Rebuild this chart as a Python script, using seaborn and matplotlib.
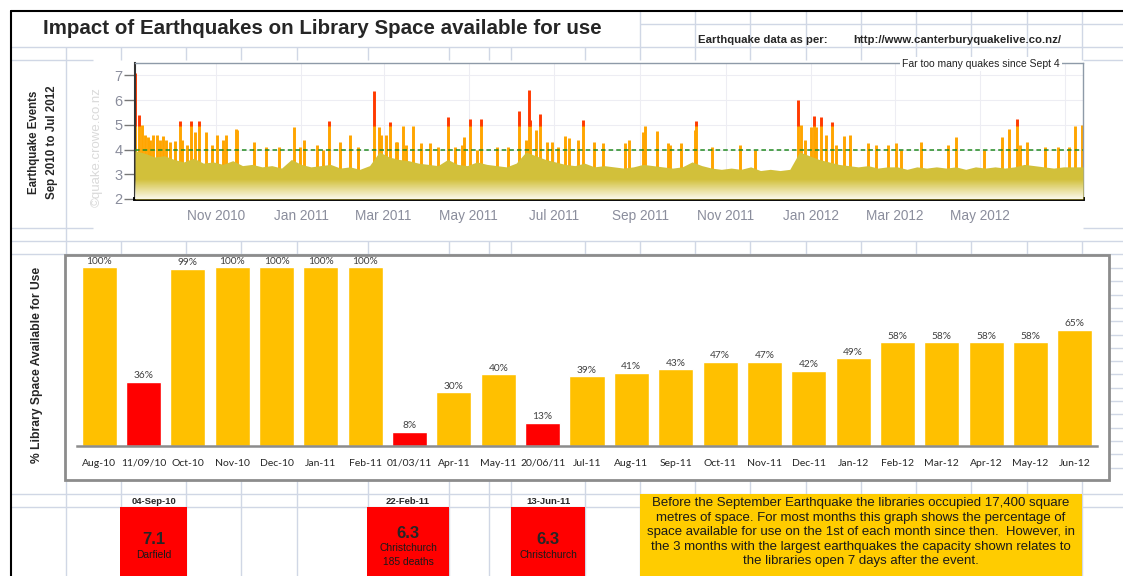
import numpy as np
import pandas as pd
import seaborn as sns
import matplotlib.pyplot as plt
import matplotlib.dates as mdates
from matplotlib.patches import Rectangle

# % of library space available for use (1st of month, or 7 days after a big quake)
months = ['Aug-10', '11/09/10', 'Oct-10', 'Nov-10', 'Dec-10', 'Jan-11', 'Feb-11',
          '01/03/11', 'Apr-11', 'May-11', '20/06/11', 'Jul-11', 'Aug-11', 'Sep-11',
          'Oct-11', 'Nov-11', 'Dec-11', 'Jan-12', 'Feb-12', 'Mar-12', 'Apr-12',
          'May-12', 'Jun-12']
pct_available = [100, 36, 99, 100, 100, 100, 100, 8, 30, 40, 13, 39, 41, 43,
                 47, 47, 42, 49, 58, 58, 58, 58, 65]
bar_colors = ['#FFC000', '#FF0000', '#FFC000', '#FFC000', '#FFC000', '#FFC000',
              '#FFC000', '#FF0000', '#FFC000', '#FFC000', '#FF0000', '#FFC000',
              '#FFC000', '#FFC000', '#FFC000', '#FFC000', '#FFC000', '#FFC000',
              '#FFC000', '#FFC000', '#FFC000', '#FFC000', '#FFC000']

# larger quakes: days after 4 Sep 2010 and magnitude
quake_day = [0, 3, 5, 7, 9, 11, 13, 16, 18, 20, 22, 25, 29, 32, 34, 37, 40, 43, 46,
             51, 55, 59, 63, 65, 72, 73, 85, 94, 103, 114, 118, 121, 130, 135, 139,
             147, 154, 160, 171, 175, 176, 180, 183, 187, 188, 192, 194, 199, 205,
             211, 217, 224, 229, 234, 236, 240, 245, 248, 259, 267, 275, 280, 282,
             283, 287, 290, 295, 299, 303, 308, 311, 317, 321, 329, 335, 351, 354,
             364, 365, 374, 382, 383, 391, 401, 402, 413, 433, 444, 475, 477, 480,
             484, 486, 488, 491, 495, 499, 502, 508, 512, 525, 531, 539, 545, 549,
             563, 582, 588, 608, 621, 626, 632, 634, 639, 652, 661, 669, 673, 678]
quake_mag = [7.1, 5.4, 5.0, 4.6, 4.5, 4.4, 4.6, 4.6, 4.4, 4.55, 4.4, 4.3, 4.35, 5.15,
             4.4, 4.2, 5.15, 4.7, 5.15, 4.7, 4.2, 4.6, 4.4, 4.6, 4.85, 4.8, 4.3, 4.1,
             4.1, 4.9, 4.1, 4.4, 4.2, 4.0, 5.15, 4.3, 4.6, 4.1, 6.35, 4.9, 4.6, 4.6,
             5.1, 4.3, 4.3, 4.95, 4.2, 4.95, 4.25, 4.25, 4.1, 5.3, 4.1, 4.2, 4.5,
             5.25, 4.0, 5.25, 4.1, 4.1, 5.55, 4.4, 6.4, 5.2, 4.8, 5.45, 4.3, 4.3, 4.1,
             4.55, 4.45, 4.4, 5.2, 4.3, 4.25, 4.25, 4.4, 4.7, 4.95, 4.75, 4.25, 4.2,
             4.25, 4.8, 5.15, 4.1, 4.2, 4.0, 6.0, 5.0, 4.4, 4.9, 5.35, 4.9, 5.3, 4.6,
             5.1, 4.2, 4.55, 4.6, 4.25, 4.2, 4.2, 4.25, 4.0, 4.3, 4.2, 4.5, 4.0, 4.5,
             4.85, 5.25, 4.2, 4.3, 4.1, 4.1, 4.1, 4.95, 5.0]

# weekly top of the dense band of small quakes, from 4 Sep 2010
band_level = [3.95, 3.85, 3.7, 3.75, 3.6, 3.5, 3.65, 3.45, 3.5, 3.4, 3.55, 3.35, 3.4,
              3.3, 3.35, 3.25, 3.6, 3.4, 3.3, 3.35, 3.4, 3.25, 3.3, 3.2, 3.35, 3.9,
              3.7, 3.6, 3.55, 3.45, 3.4, 3.35, 3.6, 3.4, 3.35, 3.5, 3.4, 3.35, 3.3,
              3.45, 3.9, 3.75, 3.6, 3.5, 3.4, 3.35, 3.45, 3.3, 3.35, 3.3, 3.25, 3.3,
              3.4, 3.35, 3.3, 3.25, 3.3, 3.5, 3.35, 3.25, 3.2, 3.25, 3.2, 3.3, 3.15,
              3.2, 3.15, 3.2, 3.9, 3.75, 3.6, 3.5, 3.4, 3.35, 3.3, 3.35, 3.25, 3.3,
              3.3, 3.2, 3.3, 3.25, 3.3, 3.25, 3.3, 3.2, 3.3, 3.25, 3.3, 3.25, 3.3,
              3.4, 3.35, 3.3, 3.25, 3.3, 3.3, 3.3]

big_dates = ['04-Sep-10', '22-Feb-11', '13-Jun-11']
big_mags = ['7.1', '6.3', '6.3']
big_places = [['Darfield'], ['Christchurch', '185 deaths'], ['Christchurch']]

note_lines = ['Before the September Earthquake the libraries occupied 17,400 square',
              'metres of space. For most months this graph shows the percentage of',
              'space available for use on the 1st of each month since then.  However, in',
              'the 3 months with the largest earthquakes the capacity shown relates to',
              'the libraries open 7 days after the event.']

sns.set_theme(style='white')
plt.rcParams['font.family'] = ['Liberation Sans', 'DejaVu Sans']

W, H = 1123, 576
fig = plt.figure(figsize=(W / 100, H / 100), dpi=100)


def box(x0, y0, x1, y1):
    return [x0 / W, 1 - y1 / H, (x1 - x0) / W, (y1 - y0) / H]


# spreadsheet background
bg = fig.add_axes([0, 0, 1, 1])
bg.set_xlim(0, W)
bg.set_ylim(H, 0)
bg.axis('off')
gc = '#D0D7E5'
cols = [66, 121, 186, 241, 297, 368, 449, 489, 511, 585, 640, 695, 750, 806, 861,
        916, 971, 1027, 1082]
bg.vlines(cols, 47, 60, color=gc, lw=1, zorder=1)
bg.vlines(cols, 241, 255, color=gc, lw=1, zorder=1)
bg.vlines(cols, 480, 576, color=gc, lw=1, zorder=1)
bg.vlines([c for c in cols if c >= 640], 11, 47, color=gc, lw=1, zorder=1)
bg.vlines(66, 60, 241, color=gc, lw=1, zorder=1)
bg.hlines(24, 640, W, color=gc, lw=1, zorder=1)
bg.hlines([47, 241, 254, 494, 507], 11, W, color=gc, lw=1, zorder=1)
bg.hlines([60, 228], 11, 93, color=gc, lw=1, zorder=1)
bg.hlines([60, 228], 1083, W, color=gc, lw=1, zorder=1)
bg.hlines(np.arange(268, 480, 13.3), 1109, W, color=gc, lw=1, zorder=1)
bg.plot([11, 11], [11, H], color='black', lw=1.5, zorder=5)
bg.plot([11, W], [11, 11], color='black', lw=1.5, zorder=5)

bg.text(43, 28, 'Impact of Earthquakes on Library Space available for use',
        fontsize=14.8, fontweight='bold', va='center')
bg.text(698, 40, 'Earthquake data as per:', fontsize=8.2, fontweight='bold', va='center')
bg.text(853, 40, 'http://www.canterburyquakelive.co.nz/', fontsize=8.2,
        fontweight='bold', va='center')
bg.text(34, 142, 'Earthquake Events', rotation=90, fontsize=8.3, fontweight='bold',
        ha='center', va='center')
bg.text(52, 142, 'Sep 2010 to Jul 2012', rotation=90, fontsize=8.3, fontweight='bold',
        ha='center', va='center')
bg.text(97, 147, '©quake.crowe.co.nz', rotation=90, fontsize=9.5, color='#DADADA',
        ha='center', va='center')

# lower chart frame
bg.add_patch(Rectangle((65, 255), 1109 - 65, 480 - 255, fc='white', ec='#8C8C8C',
                       lw=2, zorder=3))
bg.text(37, 365, '% Library Space Available for Use', rotation=90, fontsize=8.7,
        fontweight='bold', ha='center', va='center')

# big quake boxes
for (x0, x1), d, m, place in zip([(120, 187), (367, 449), (511, 585)],
                                 big_dates, big_mags, big_places):
    bg.add_patch(Rectangle((x0, 507), x1 - x0, H - 507, fc='#FF0000', ec='none',
                           zorder=3))
    xc = (x0 + x1) / 2
    bg.text(xc, 501, d, fontsize=6.8, fontweight='bold', ha='center', va='center')
    y = 540 - 7 * (len(place) - 1)
    bg.text(xc, y, m, fontsize=12, fontweight='bold', ha='center', va='center',
            zorder=4)
    for i, line in enumerate(place):
        bg.text(xc, y + 15 + 14 * i, line, fontsize=7.4, ha='center', va='center',
                color='#1a1a1a', zorder=4)

# note box
bg.add_patch(Rectangle((640, 494), 1082 - 640, H - 494, fc='#FFCC00', ec='none',
                       zorder=3))
for i, line in enumerate(note_lines):
    bg.text(861, 503 + 14.6 * i, line, fontsize=9.5, ha='center', va='center',
            color='#1a1a1a', zorder=4)

# upper chart: earthquake events
ax1 = fig.add_axes(box(135, 63, 1083, 199))
start = pd.Timestamp('2010-09-04')
qdates = start + pd.to_timedelta(quake_day, unit='D')
qmag = np.array(quake_mag)
band_dates = start + pd.to_timedelta(np.arange(len(band_level)) * 7, unit='D')

ax1.vlines(qdates, 2, np.minimum(qmag, 5.0), color='#FFA500', lw=2.1, zorder=2)
red = qmag > 5.0
ax1.vlines(qdates[red], 4.95, qmag[red], color='#FF3A00', lw=2.1, zorder=2)
ax1.fill_between(band_dates, 2, band_level, color='#D2C03A', lw=0, zorder=3)

x0n = mdates.date2num(start)
x1n = mdates.date2num(pd.Timestamp('2012-07-14'))
fade = np.ones((100, 1, 4))
fade[:, 0, 3] = np.linspace(0.9, 0.0, 100)
ax1.imshow(fade, extent=[x0n, x1n, 2, 2.8], origin='lower', aspect='auto', zorder=4)
ax1.axhline(4, color='#228B22', ls=(0, (3, 2)), lw=1.1, zorder=5)

ax1.set_xlim(x0n, x1n)
ax1.set_ylim(2, 7.5)
ticks = pd.date_range('2010-11-01', '2012-07-01', freq='2MS')
ax1.set_xticks(mdates.date2num(ticks))
ax1.set_xticklabels([t.strftime('%b %Y') for t in ticks[:-1]] + [''])
ax1.set_yticks([2, 3, 4, 5, 6, 7])
ax1.grid(True, color='#EDEDF3', lw=0.8)
ax1.set_axisbelow(True)
ax1.tick_params(axis='x', length=0, pad=7, labelsize=9.8, labelcolor='#8A8D9C')
ax1.tick_params(axis='y', length=8, width=1, color='#777777', pad=1, labelsize=10.5,
                labelcolor='#8A8D9C', left=True)
for s in ['top', 'right']:
    ax1.spines[s].set_color('#8E9AA8')
    ax1.spines[s].set_linewidth(1)
ax1.spines['left'].set_color('#333333')
ax1.spines['left'].set_linewidth(1.5)
ax1.spines['bottom'].set_color('black')
ax1.spines['bottom'].set_linewidth(2.8)
fig.text(1060 / W, 1 - 64 / H, 'Far too many quakes since Sept 4', fontsize=7.5,
         ha='right', va='center', color='#222222',
         bbox=dict(fc='white', ec='none', pad=1.5))

# lower chart: library space
ax2 = fig.add_axes(box(77, 256, 1097, 446))
ax2.set_facecolor('none')
df = pd.DataFrame({'month': months, 'pct': pct_available})
sns.barplot(data=df, x='month', y='pct', hue='month', palette=bar_colors,
            saturation=1, legend=False, width=0.79, ax=ax2)
for c in ax2.containers:
    ax2.bar_label(c, fmt='%.0f%%', padding=1, fontsize=7.3, color='#404040',
                  family='Lato')
ax2.set_xlim(-0.5, 22.5)
ax2.set_ylim(0, 106.1)
ax2.set_yticks([])
ax2.set_xlabel('')
ax2.set_ylabel('')
ax2.tick_params(axis='x', length=0, pad=9, labelsize=7.5, labelcolor='#262626')
for lab in ax2.get_xticklabels():
    lab.set_family('Lato')
for s in ['top', 'right', 'left']:
    ax2.spines[s].set_visible(False)
ax2.spines['bottom'].set_color('#8C8C8C')
ax2.spines['bottom'].set_linewidth(1.8)

fig.savefig('out.png', dpi=100)
